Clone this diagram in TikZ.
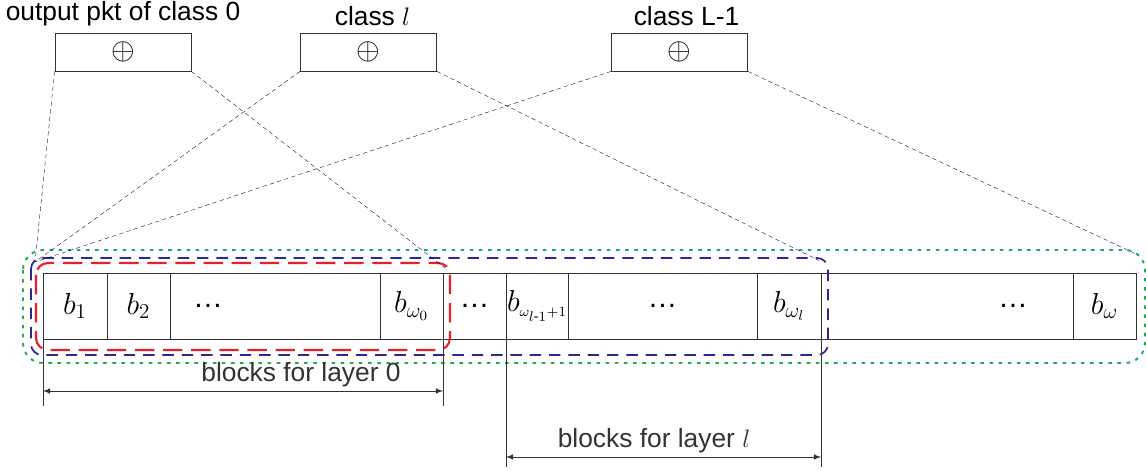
\documentclass[tikz,border=0pt]{standalone}
\usepackage{amsmath}
\usepackage{fontspec}
\setmainfont{Liberation Sans}
\usepackage{tikz}
\usepackage{xcolor}
\usetikzlibrary{positioning}
\definecolor{grp-red}{RGB}{232,30,42}
\definecolor{grp-blue}{RGB}{40,40,150}
\definecolor{grp-green}{RGB}{30,170,90}
\tikzset{
    pkt-box/.style = {draw=black!80, thin, rectangle, minimum width=2.72cm, minimum height=0.76cm, inner sep=0pt, font=\fontsize{16}{16}\selectfont},
    pkt-title/.style = {inner sep=1pt, anchor=south, font=\fontsize{15}{17}\selectfont},
    blk-cell/.style = {draw=black!80, thin, rectangle, minimum height=1.32cm, outer sep=0pt, inner sep=0pt, font=\fontsize{17}{19}\selectfont},
    fan-line/.style = {black, very thin, dash pattern=on 2.5pt off 1.8pt},
    red-grp/.style = {draw=grp-red, line width=1.2pt, rounded corners=0.24cm, dash pattern=on 11pt off 5pt},
    blue-grp/.style = {draw=grp-blue, line width=1pt, rounded corners=0.22cm, dash pattern=on 6.5pt off 4.5pt},
    green-grp/.style = {draw=grp-green, line width=1.1pt, rounded corners=0.4cm, dash pattern=on 2pt off 3.2pt},
    span-line/.style = {black!80, thin},
    span-label/.style = {inner sep=2pt, font=\fontsize{15}{17}\selectfont},
}

\begin{document}
\begin{tikzpicture}
\useasboundingbox (0,0) rectangle (22.92,-9.42);

\node[pkt-box] (pkt0) at (2.46,-1.04) {$\oplus$};
\node[pkt-box] (pktl) at (7.37,-1.04) {$\oplus$};
\node[pkt-box] (pktL) at (13.59,-1.04) {$\oplus$};
\node[pkt-title] (title0) at ([yshift=0.1cm]pkt0.north) {output pkt of class 0};
\node[pkt-title] (titlel) at ([shift={(0.08,0.1)}]pktl.north) {class $l$};
\node[pkt-title] (titleL) at ([shift={(0.14,0.1)}]pktL.north) {class L-1};

\node[blk-cell, minimum width=1.28cm] (b1) at (1.5,-6.12) {$b_1$};
\node[blk-cell, minimum width=1.26cm, right=0pt of b1] (b2) {$b_2$};
\node[blk-cell, minimum width=4.2cm, text width=3.28cm, inner xsep=0.46cm, align=left, right=0pt of b2] (dots1) {\dots};
\node[blk-cell, minimum width=1.26cm, right=0pt of dots1] (bw0) {$b_{\omega_0}$};
\node[blk-cell, minimum width=1.26cm, right=0pt of bw0] (dots2) {\dots};
\node[blk-cell, minimum width=1.24cm, right=0pt of dots2] (bwl1) {\makebox[0pt]{$b_{\scriptscriptstyle\omega_{l\text{-}1}+1}$}};
\node[blk-cell, minimum width=3.78cm, right=0pt of bwl1] (dots3) {\dots};
\node[blk-cell, minimum width=1.28cm, right=0pt of dots3] (bwl) {$b_{\omega_l}$};
\node[blk-cell, minimum width=5.04cm, text width=3.24cm, inner xsep=0.9cm, align=right, right=0pt of bwl] (dots4) {\dots};
\node[blk-cell, minimum width=1.26cm, right=0pt of dots4] (bw) {$b_\omega$};

\coordinate (red-nw) at ([shift={(-0.14,0.2)}]b1.north west);
\coordinate (red-se) at ([shift={(0.14,-0.22)}]bw0.south east);
\coordinate (blue-nw) at ([shift={(-0.24,0.3)}]b1.north west);
\coordinate (blue-se) at ([shift={(0.14,-0.32)}]bwl.south east);
\coordinate (green-nw) at ([shift={(-0.4,0.46)}]b1.north west);
\coordinate (green-se) at ([shift={(0.18,-0.48)}]bw.south east);
\draw[green-grp] (green-nw) rectangle (green-se);
\draw[blue-grp] (blue-nw) rectangle (blue-se);
\draw[red-grp] (red-nw) rectangle (red-se);

\coordinate (fan-left) at ([shift={(-0.02,0.02)}]red-nw);
\coordinate (fan0) at ([shift={(-0.1,-0.1)}]red-se |- red-nw);
\coordinate (fanl) at ([shift={(-0.18,-0.05)}]blue-se |- blue-nw);
\coordinate (fanL) at ([shift={(-0.14,-0.1)}]green-se |- green-nw);
\draw[fan-line] (pkt0.south west) -- (fan-left);
\draw[fan-line] (pkt0.south east) -- (fan0);
\draw[fan-line] (pktl.south west) -- (fan-left);
\draw[fan-line] (pktl.south east) -- (fanl);
\draw[fan-line] (pktL.south west) -- (fan-left);
\draw[fan-line] (pktL.south east) -- (fanL);

\coordinate (tick0l) at ([yshift=-1.34cm]b1.south west);
\coordinate (tick0r) at ([yshift=-1.34cm]bw0.south east);
\coordinate (tickll) at ([yshift=-2.56cm]bwl1.south west);
\coordinate (ticklr) at ([yshift=-2.56cm]bwl.south east);
\draw[span-line] (b1.south west) -- (tick0l);
\draw[span-line] (bw0.south east) -- (tick0r);
\draw[span-line] (bwl1.south west) -- (tickll);
\draw[span-line] (bwl.south east) -- (ticklr);

\coordinate (arr0l) at ([yshift=-1.04cm]b1.south west);
\coordinate (arr0r) at ([yshift=-1.04cm]bw0.south east);
\coordinate (arrll) at ([yshift=-2.36cm]bwl1.south west);
\coordinate (arrlr) at ([yshift=-2.36cm]bwl.south east);
\draw[span-line, latex-latex] (arr0l) -- node[span-label, above, pos=0.645] (lbl0) {blocks for layer 0} (arr0r);
\draw[span-line, latex-latex] (arrll) -- node[span-label, above, pos=0.47] (lbll) {blocks for layer $l$} (arrlr);
\end{tikzpicture}
\end{document}
